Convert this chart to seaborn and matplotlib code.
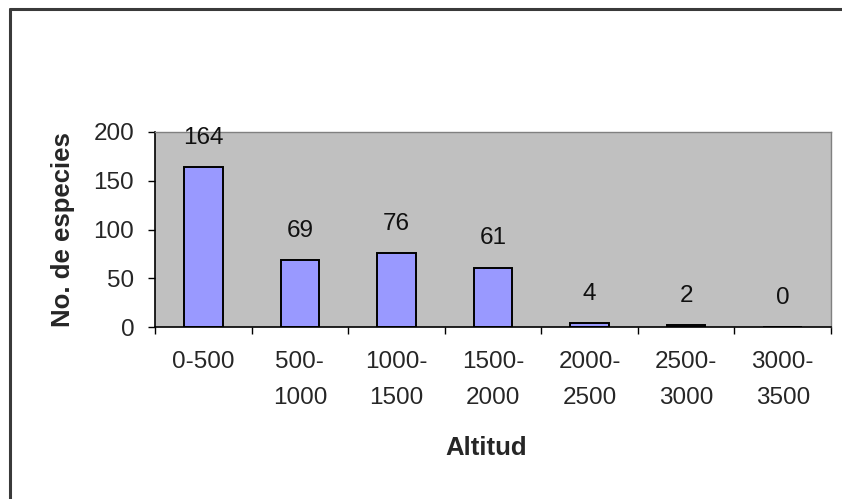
import matplotlib
matplotlib.use("Agg")
import matplotlib.pyplot as plt
import seaborn as sns
import pandas as pd
import numpy as np
from matplotlib.lines import Line2D

categories = ["0-500", "500-\n1000", "1000-\n1500", "1500-\n2000", "2000-\n2500", "2500-\n3000", "3000-\n3500"]
especies = [164, 69, 76, 61, 4, 2, 0]
yticks = [0, 50, 100, 150, 200]

sns.set_style("white")
plt.rcParams['font.family'] = ['Liberation Sans', 'DejaVu Sans']

W, H, DPI = 842, 499, 100
fig = plt.figure(figsize=(W / DPI, H / DPI), dpi=DPI)
L, R, T, B = 155, 831, 132, 327
ax = fig.add_axes([L / W, 1 - B / H, (R - L) / W, (B - T) / H])
ax.set_facecolor("#C0C0C0")

df = pd.DataFrame({"altitud": categories, "especies": especies})
sns.barplot(data=df, x="altitud", y="especies", color="#9999FF", saturation=1,
            width=0.4, edgecolor="black", linewidth=1.4, ax=ax)

ax.set_xlim(-0.5, len(categories) - 0.5)
ax.set_ylim(0, 200)
ax.set_yticks(yticks)
ax.set_yticklabels([str(v) for v in yticks], fontsize=17.5)

major = np.arange(-0.5, len(categories), 1.0)
ax.set_xticks(major)
ax.set_xticklabels([""] * len(major))
ax.set_xticks(range(len(categories)), labels=categories, minor=True)
for t in ax.get_xticklabels(minor=True):
    t.set_fontsize(17.5)
    t.set_linespacing(1.85)

ax.tick_params(axis="x", which="major", direction="out", length=5, width=1, color="black", bottom=True)
ax.tick_params(axis="x", which="minor", length=0, pad=17)
ax.tick_params(axis="y", direction="out", length=5, width=1, color="black", left=True, pad=10)

for s in ["left", "bottom"]:
    ax.spines[s].set_color("black")
    ax.spines[s].set_linewidth(1.2)
for s in ["top", "right"]:
    ax.spines[s].set_color("#808080")
    ax.spines[s].set_linewidth(1.0)

for i, v in enumerate(especies):
    ax.annotate(str(v), xy=(i, v), xytext=(0, 13), textcoords="offset points",
                ha="center", va="bottom", fontsize=17.5, color="#111111")

ax.set_xlabel("Altitud", fontsize=18.5, fontweight="bold")
ax.set_ylabel("No. de especies", fontsize=18.5, fontweight="bold")
ax.xaxis.set_label_coords(0.49, -0.56)
ax.yaxis.set_label_coords(-0.118, 0.5)

# figure frame (left and top edges visible)
fig.add_artist(Line2D([10 / W, 10 / W], [0, 1 - 9 / H], transform=fig.transFigure, color="#3a3a3a", lw=2.2))
fig.add_artist(Line2D([10 / W, 1], [1 - 9 / H, 1 - 9 / H], transform=fig.transFigure, color="#3a3a3a", lw=2.2))

fig.savefig("out.png", dpi=DPI)
